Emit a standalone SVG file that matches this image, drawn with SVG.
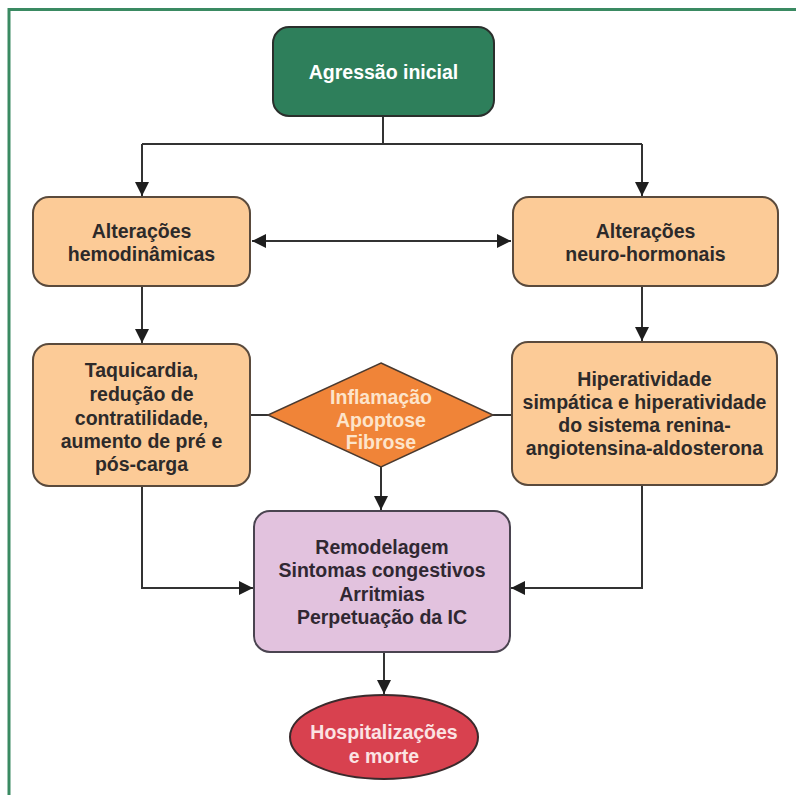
<svg xmlns="http://www.w3.org/2000/svg" width="796" height="795" viewBox="0 0 796 795">
<style>
.t{font-family:"Liberation Sans",Arial,sans-serif;font-weight:bold;font-size:19.5px;text-anchor:middle}
.dk{fill:#2d2a2a}
.wh{fill:#ffffff}
.pe{fill:#fde4cb}
.box{fill:#fccb97;stroke:#5a4a3c;stroke-width:2}
.ln{fill:none;stroke:#333;stroke-width:2}
</style>
<defs>
<marker id="ah" viewBox="0 0 14 14" refX="14" refY="7" markerWidth="14" markerHeight="14" markerUnits="userSpaceOnUse" orient="auto-start-reverse">
<path d="M0,0 L14,7 L0,14 Z" fill="#1e1e1e"/>
</marker>
</defs>
<rect width="796" height="795" fill="#ffffff"/>
<path d="M9,795 V9.5 H796" fill="none" stroke="#3a8a62" stroke-width="3"/>
<g id="connectors">
<path class="ln" d="M383,116 V144"/>
<path class="ln" d="M142,144 H642"/>
<path class="ln" d="M142,144 V196" marker-end="url(#ah)"/>
<path class="ln" d="M642,144 V196" marker-end="url(#ah)"/>
<path class="ln" d="M252,241 H511" marker-start="url(#ah)" marker-end="url(#ah)"/>
<path class="ln" d="M142,286 V343" marker-end="url(#ah)"/>
<path class="ln" d="M642,286 V341" marker-end="url(#ah)"/>
<path class="ln" d="M250,415 H268"/>
<path class="ln" d="M493,415 H512"/>
<path class="ln" d="M381,467 V510" marker-end="url(#ah)"/>
<path class="ln" d="M142,486 V588 H253" marker-end="url(#ah)"/>
<path class="ln" d="M642,485 V588 H511" marker-end="url(#ah)"/>
<path class="ln" d="M384,652 V694" marker-end="url(#ah)"/>
</g>
<g id="agressao">
<rect x="273" y="27" width="221" height="89" rx="16" fill="#2e7f5b" stroke="#2a2f2c" stroke-width="2"/>
<text class="t wh" x="383.5" y="79" font-size="20.5">Agressão inicial</text>
</g>
<g id="hemodinamicas">
<rect class="box" x="33" y="197" width="217" height="89" rx="16"/>
<text class="t dk" x="141.5" y="238">Alterações</text>
<text class="t dk" x="141.5" y="261">hemodinâmicas</text>
</g>
<g id="neurohormonais">
<rect class="box" x="513" y="197" width="265" height="89" rx="16"/>
<text class="t dk" x="645.5" y="238">Alterações</text>
<text class="t dk" x="645.5" y="261">neuro-hormonais</text>
</g>
<g id="taquicardia">
<rect class="box" x="33" y="344" width="217" height="142" rx="16"/>
<text class="t dk" x="141.5" y="377">Taquicardia,</text>
<text class="t dk" x="141.5" y="401">redução de</text>
<text class="t dk" x="141.5" y="425">contratilidade,</text>
<text class="t dk" x="141.5" y="448">aumento de pré e</text>
<text class="t dk" x="141.5" y="471">pós-carga</text>
</g>
<g id="hiperatividade">
<rect class="box" x="512" y="342" width="265" height="143" rx="16"/>
<text class="t dk" x="644.5" y="386">Hiperatividade</text>
<text class="t dk" x="644.5" y="409">simpática e hiperatividade</text>
<text class="t dk" x="644.5" y="432">do sistema renina-</text>
<text class="t dk" x="644.5" y="455">angiotensina-aldosterona</text>
</g>
<g id="inflamacao">
<polygon points="381,363 493,415 381,467 268,415" fill="#f08438" stroke="#4a3a30" stroke-width="1.5"/>
<text class="t pe" x="381" y="404">Inflamação</text>
<text class="t pe" x="381" y="427">Apoptose</text>
<text class="t pe" x="381" y="449">Fibrose</text>
</g>
<g id="remodelagem">
<rect x="254" y="511" width="256" height="141" rx="16" fill="#e2c2de" stroke="#4a4450" stroke-width="2"/>
<text class="t" x="382" y="554" fill="#302832">Remodelagem</text>
<text class="t" x="382" y="577" fill="#302832">Sintomas congestivos</text>
<text class="t" x="382" y="601" fill="#302832">Arritmias</text>
<text class="t" x="382" y="624" fill="#302832">Perpetuação da IC</text>
</g>
<g id="hospitalizacoes">
<ellipse cx="384" cy="737" rx="94" ry="42" fill="#d8414f" stroke="#3a2a2c" stroke-width="2"/>
<text class="t" x="384" y="739" fill="#fbe3e3">Hospitalizações</text>
<text class="t" x="384" y="763" fill="#fbe3e3">e morte</text>
</g>
</svg>
